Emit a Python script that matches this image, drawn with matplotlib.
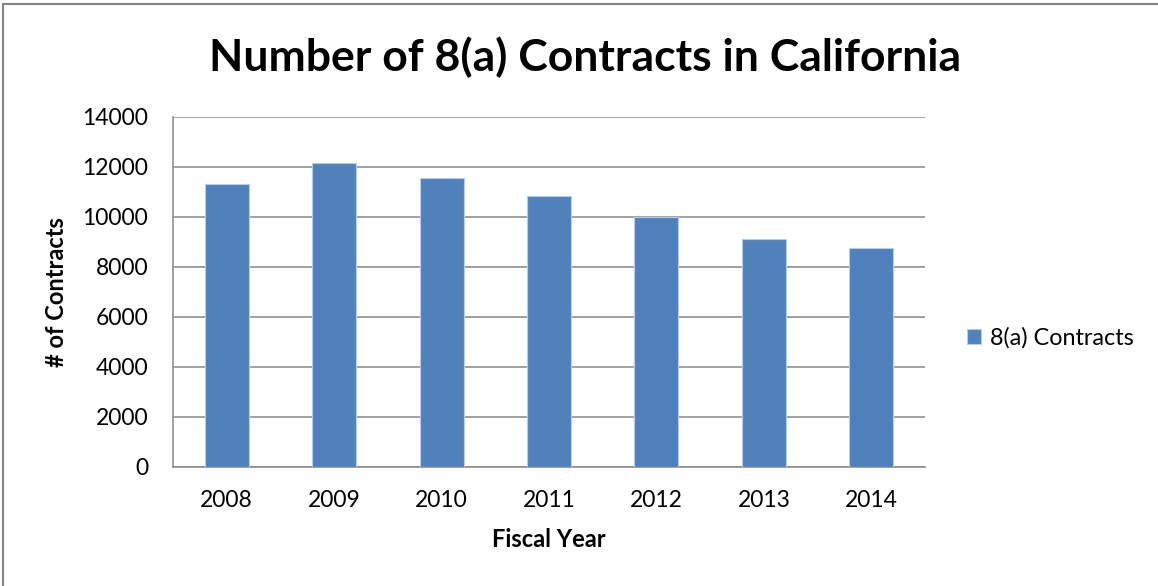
import matplotlib
matplotlib.use("Agg")
import matplotlib.pyplot as plt
from matplotlib.patches import Rectangle

years = ["2008", "2009", "2010", "2011", "2012", "2013", "2014"]
contracts = [11300, 12160, 11540, 10820, 9980, 9100, 8740]
yticks = [0, 2000, 4000, 6000, 8000, 10000, 12000, 14000]

plt.rcParams["font.family"] = ["Lato", "DejaVu Sans"]

fig = plt.figure(figsize=(11.58, 5.86), dpi=100)
ax = fig.add_axes([0.1494, 0.2036, 0.6494, 0.5970])

# chart-area frame
fig.patches.append(Rectangle((0.003, -0.05), 1.05, 1.043, transform=fig.transFigure,
                             fill=False, edgecolor="#868686", linewidth=1.5))

x = range(len(years))
ax.bar(x, contracts, width=0.41, color="#4F81BD", edgecolor="#B9CDE5",
       linewidth=0.8, label="8(a) Contracts", zorder=3)

ax.set_xlim(-0.5, len(years) - 0.5)
ax.set_ylim(0, 14000)
ax.set_yticks(yticks)
ax.set_yticklabels([str(v) for v in yticks])
ax.set_xticks(list(x))
ax.set_xticklabels(years)
ax.tick_params(axis="both", length=0, labelsize=16.5, colors="#000000")
ax.tick_params(axis="x", pad=17)
ax.tick_params(axis="y", pad=18)

ax.yaxis.grid(True, color="#868686", linewidth=1.1, zorder=0)
ax.set_axisbelow(True)
for s in ["top", "right"]:
    ax.spines[s].set_visible(False)
for s in ["left", "bottom"]:
    ax.spines[s].set_color("#868686")
    ax.spines[s].set_linewidth(1.1)

ax.set_xlabel("Fiscal Year", fontsize=17, fontweight="bold", labelpad=12)
ax.set_ylabel("# of Contracts", fontsize=17, fontweight="bold", labelpad=10)

fig.text(0.505, 0.902, "Number of 8(a) Contracts in California", ha="center",
         va="center", fontsize=32, fontweight="bold")

fig.legend(loc="center left", bbox_to_anchor=(0.817, 0.423), frameon=False,
           fontsize=16.8, handlelength=0.6, handleheight=0.6, handletextpad=0.4)

fig.savefig("out.png", dpi=100)
